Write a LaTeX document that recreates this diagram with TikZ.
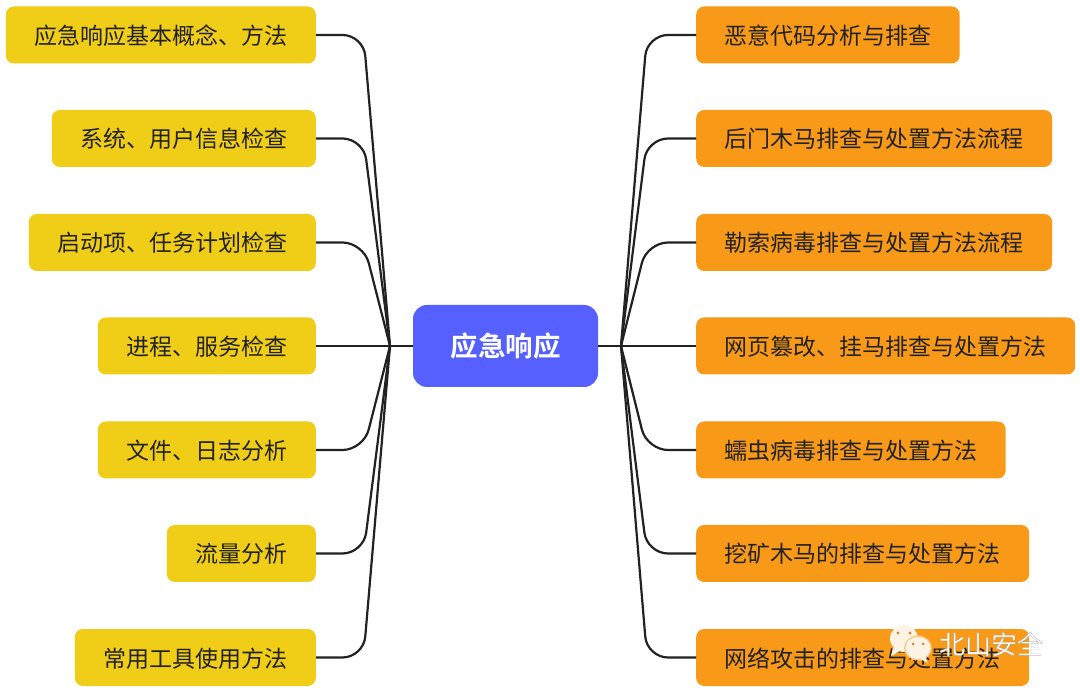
\documentclass[tikz,border=0pt]{standalone}
\usepackage{fontspec}
\setmainfont{Noto Sans CJK SC}
\newfontfamily\cjkreg{Noto Sans CJK SC}
\newfontfamily\cjkbold{Noto Sans CJK SC Bold}
\newfontfamily\cjkmark[FakeBold=0.6]{Noto Sans CJK SC}
\definecolor{leafL}{HTML}{F0CD17}
\definecolor{leafR}{HTML}{F89A17}
\definecolor{rootC}{HTML}{5560FE}
\definecolor{ink}{HTML}{222222}
\definecolor{cream}{HTML}{FDF3E4}
\definecolor{eye}{HTML}{C98A3E}
\tikzset{
  x=1pt,y=-1pt,
  leaf/.style={rectangle,rounded corners=8pt,minimum height=57pt,inner sep=0pt,text=ink,text height=21pt,text depth=2pt,font=\cjkreg\fontsize{23}{23}\selectfont},
  leafleft/.style={leaf,fill=leafL,anchor=east},
  leafright/.style={leaf,fill=leafR,anchor=west},
  rootbox/.style={rectangle,rounded corners=14pt,fill=rootC,text=white,minimum width=185pt,minimum height=82pt,inner sep=0pt,font=\cjkbold\fontsize{27.5}{27.5}\selectfont},
  link/.style={draw=ink,line width=2.2pt,rounded corners=21pt},
  bubble/.style={fill=cream,draw=none}
}
\begin{document}
\begin{tikzpicture}
\useasboundingbox (0,0) rectangle (1080,692);
\fill[white] (0,0) rectangle (1080,692);
\node[rootbox] (root) at (505.5,346) {应急响应};
\coordinate (hubL) at (390,346);
\coordinate (hubR) at (621,346);
\coordinate (cornerL) at (363.5,346);
\coordinate (cornerR) at (647,346);
\node[leafleft,minimum width=310pt] (l1) at (316,35) {应急响应基本概念、方法};
\node[leafleft,minimum width=264pt] (l2) at (316,138.5) {系统、用户信息检查};
\node[leafleft,minimum width=287pt] (l3) at (316,242.5) {启动项、任务计划检查};
\node[leafleft,minimum width=218pt] (l4) at (316,346) {进程、服务检查};
\node[leafleft,minimum width=218pt] (l5) at (316,450) {文件、日志分析};
\node[leafleft,minimum width=149pt] (l6) at (316,553.5) {流量分析};
\node[leafleft,minimum width=241pt] (l7) at (316,657.5) {常用工具使用方法};
\node[leafright,minimum width=263.5pt] (r1) at (696,35) {恶意代码分析与排查};
\node[leafright,minimum width=356pt] (r2) at (696,138.5) {后门木马排查与处置方法流程};
\node[leafright,minimum width=356pt] (r3) at (696,242.5) {勒索病毒排查与处置方法流程};
\node[leafright,minimum width=379pt] (r4) at (696,346) {网页篡改、挂马排查与处置方法};
\node[leafright,minimum width=309.5pt] (r5) at (696,450) {蠕虫病毒排查与处置方法};
\node[leafright,minimum width=333pt] (r6) at (696,553.5) {挖矿木马的排查与处置方法};
\node[leafright,minimum width=333pt] (r7) at (696,657.5) {网络攻击的排查与处置方法};
\draw[link] (root.west) -- (hubL);
\draw[link] (root.east) -- (hubR);
\foreach \n in {l1,l2,l3,l5,l6,l7} \draw[link] (\n.east) -- (\n.east -| cornerL) -- (hubL);
\foreach \n in {r1,r2,r3,r5,r6,r7} \draw[link] (\n.west) -- (\n.west -| cornerR) -- (hubR);
\draw[link] (l4.east) -- (hubL);
\draw[link] (r4.west) -- (hubR);
% watermark
\fill[bubble] (904,638.5) ellipse[x radius=14pt,y radius=13.5pt];
\fill[bubble] (893,648) -- (891,656) -- (900,651) -- cycle;
\fill[eye] (898,633) circle[radius=1.7pt] (910,633) circle[radius=1.7pt];
\fill[leafR!45!cream] (918,648) ellipse[x radius=14pt,y radius=12.5pt];
\fill[bubble] (918,648) ellipse[x radius=12.5pt,y radius=11pt];
\fill[bubble] (925,657) -- (928,663) -- (920,659) -- cycle;
\fill[eye] (913,644) circle[radius=1.5pt] (923,644) circle[radius=1.5pt];
\node[inner sep=0pt,font=\cjkmark\fontsize{26}{26}\selectfont] (mark) at (991,644) {\special{pdf:bcolor [1 1 1] [0.55 0.55 0.55]}北山安全\special{pdf:ecolor}};
\end{tikzpicture}
\end{document}
